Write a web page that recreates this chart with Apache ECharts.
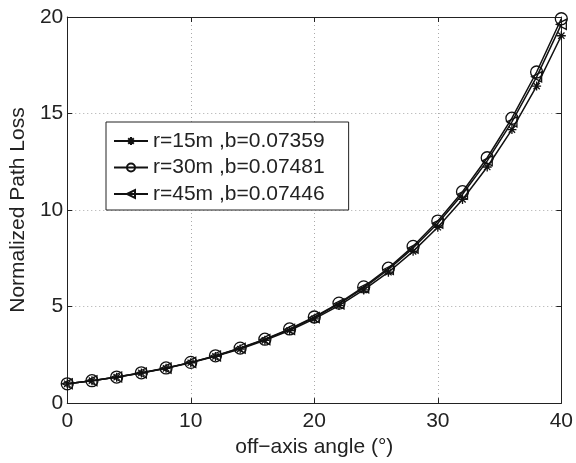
<!DOCTYPE html>
<html>
<head>
<meta charset="utf-8">
<script src="https://cdn.jsdelivr.net/npm/echarts@6/dist/echarts.min.js"></script>
<style>
html,body{margin:0;padding:0;background:#fff;}
#chart{width:576px;height:463px;}
</style>
</head>
<body>
<div id="chart"></div>
<script>
const angles = [0,2,4,6,8,10,12,14,16,18,20,22,24,26,28,30,32,34,36,38,40];
const seriesNames = ['r=15m ,b=0.07359','r=30m ,b=0.07481','r=45m ,b=0.07446'];
const loss15 = [1.00,1.16,1.34,1.56,1.80,2.09,2.42,2.80,3.25,3.76,4.36,5.05,5.86,6.78,7.86,9.11,10.55,12.23,14.17,16.42,19.03];
const loss30 = [1.00,1.16,1.35,1.57,1.82,2.11,2.45,2.85,3.31,3.84,4.46,5.18,6.02,6.99,8.12,9.43,10.95,12.71,14.76,17.15,19.91];
const loss45 = [1.00,1.16,1.35,1.56,1.81,2.11,2.44,2.84,3.29,3.82,4.43,5.14,5.97,6.92,8.03,9.32,10.82,12.55,14.57,16.90,19.62];
const xTicks = [0,10,20,30,40];
const yTicks = [0,5,10,15,20];

const starPath = 'path://M5,0L5,10M0,5L10,5M1.5,1.5L8.5,8.5M1.5,8.5L8.5,1.5';
const triPath = 'path://M0,5L10,0L10,10Z';
const symbols = [starPath, 'circle', triPath];
const sizes = [9, 12, 10];
const datasets = [loss15, loss30, loss45];

const font = 'Liberation Sans, Arial, sans-serif';
const chart = echarts.init(document.getElementById('chart'), null, {renderer:'canvas'});

const series = datasets.map((d, i) => ({
  name: seriesNames[i],
  type: 'line',
  xAxisIndex: 0,
  yAxisIndex: 0,
  data: d.map((v, j) => [angles[j], v]),
  symbol: symbols[i],
  symbolSize: sizes[i],
  showAllSymbol: true,
  lineStyle: {color: '#111', width: 1.5},
  itemStyle: {color: 'rgba(255,255,255,0)', borderColor: '#111', borderWidth: 1.3},
  emphasis: {disabled: true},
  animation: false,
  z: 3 + i
}));

const commonTick = {show: true, inside: true, length: 5, lineStyle: {color: '#222', width: 1}};

chart.setOption({
  backgroundColor: '#fff',
  animation: false,
  grid: {left: 65, right: 13, top: 17, bottom: 54, containLabel: false},
  legend: {
    data: seriesNames,
    orient: 'vertical',
    left: 106,
    top: 122,
    backgroundColor: '#fff',
    borderColor: '#222',
    borderWidth: 1,
    borderRadius: 0,
    padding: [8, 24, 5, 7],
    itemWidth: 34,
    itemHeight: 10,
    itemGap: 4.5,
    textStyle: {fontFamily: font, fontSize: 21, lineHeight: 22, color: '#222'},
    selectedMode: false
  },
  xAxis: [{
    type: 'value', min: 0, max: 40, interval: 10,
    position: 'bottom',
    name: 'off\u2212axis angle (\u00B0)',
    nameLocation: 'middle', nameGap: 31,
    nameTextStyle: {fontFamily: font, fontSize: 21, color: '#222'},
    axisLine: {show: true, onZero: false, lineStyle: {color: '#222', width: 1}},
    axisTick: commonTick,
    axisLabel: {fontFamily: font, fontSize: 21, color: '#222', margin: 8,
      formatter: v => xTicks.includes(v) ? String(v) : ''},
    splitLine: {show: true, lineStyle: {color: '#aaa', type: [1, 3], width: 1}}
  }, {
    type: 'value', min: 0, max: 40, interval: 10,
    position: 'top',
    axisLine: {show: true, onZero: false, lineStyle: {color: '#222', width: 1}},
    axisTick: commonTick,
    axisLabel: {show: false},
    splitLine: {show: false}
  }],
  yAxis: [{
    type: 'value', min: 0, max: 20, interval: 5,
    position: 'left',
    name: 'Normalized Path Loss',
    nameLocation: 'middle', nameGap: 34,
    nameTextStyle: {fontFamily: font, fontSize: 21, color: '#222'},
    axisLine: {show: true, onZero: false, lineStyle: {color: '#222', width: 1}},
    axisTick: commonTick,
    axisLabel: {fontFamily: font, fontSize: 21, color: '#222', margin: 4,
      formatter: v => yTicks.includes(v) ? String(v) : ''},
    splitLine: {show: true, lineStyle: {color: '#aaa', type: [1, 3], width: 1}}
  }, {
    type: 'value', min: 0, max: 20, interval: 5,
    position: 'right',
    axisLine: {show: true, onZero: false, lineStyle: {color: '#222', width: 1}},
    axisTick: commonTick,
    axisLabel: {show: false},
    splitLine: {show: false}
  }],
  series: series
});
</script>
</body>
</html>
